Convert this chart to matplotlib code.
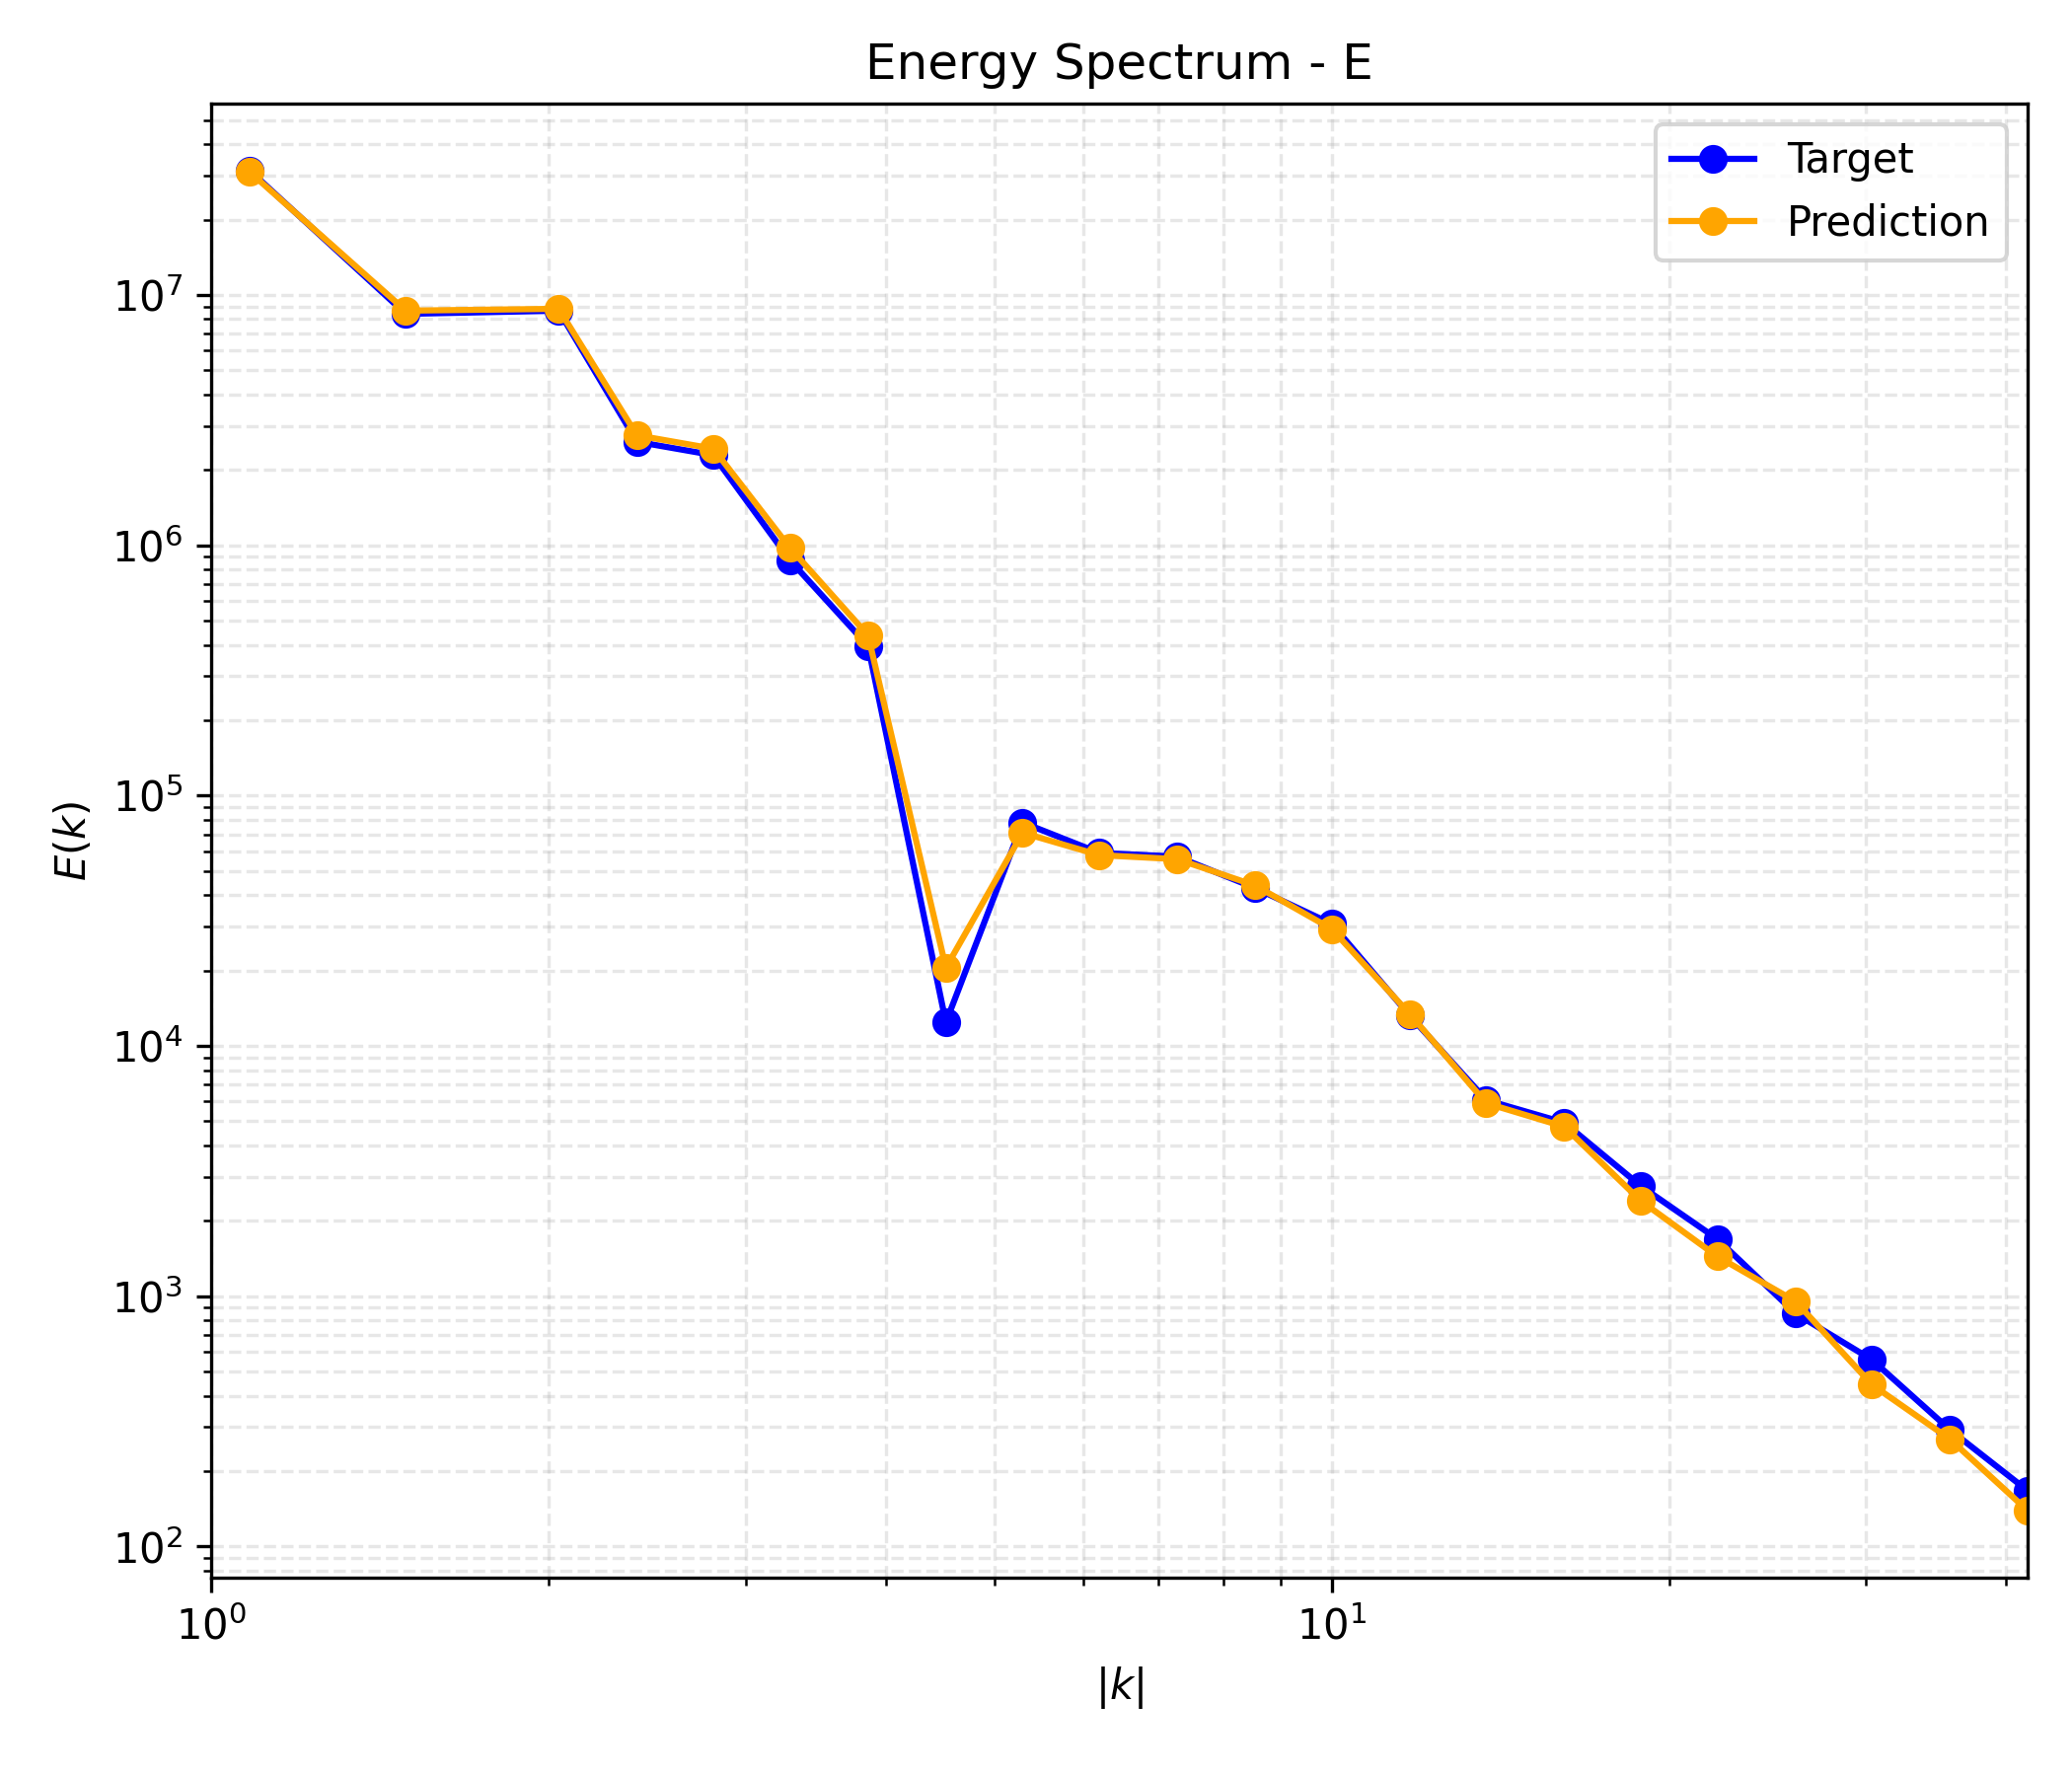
import matplotlib
matplotlib.use("Agg")
import matplotlib.pyplot as plt

# wavenumber bins
k = [1.082, 1.491, 2.042, 2.398, 2.806, 3.285, 3.856, 4.525, 5.298, 6.203, 7.278,
     8.544, 10.0, 11.74, 13.74, 16.13, 18.88, 22.09, 25.94, 30.35, 35.64, 41.8]

target = [3.14e7, 8.4e6, 8.65e6, 2.59e6, 2.29e6, 8.7e5, 3.96e5, 1.24e4, 7.8e4, 5.9e4, 5.7e4,
          4.27e4, 3.07e4, 1.32e4, 6.07e3, 4.93e3, 2.75e3, 1.69e3, 853, 557, 292, 167]

prediction = [3.1e7, 8.65e6, 8.8e6, 2.75e6, 2.43e6, 9.75e5, 4.37e5, 2.05e4, 7.1e4, 5.78e4, 5.57e4,
              4.37e4, 2.93e4, 1.34e4, 5.9e3, 4.75e3, 2.4e3, 1.44e3, 953, 443, 268, 139]

fig, ax = plt.subplots(figsize=(7, 6))

ax.loglog(k, target, 'o-', color='blue', label='Target')
ax.loglog(k, prediction, 'o-', color='orange', label='Prediction')

ax.set_xlim(1, k[-1])
ax.set_title("Energy Spectrum - E")
ax.set_xlabel("$|k|$")
ax.set_ylabel("$E(k)$")
ax.grid(True, which='both', ls='--', alpha=0.3)
ax.legend(loc='upper right')

fig.subplots_adjust(left=0.102, right=0.9786, top=0.9417, bottom=0.1117)
plt.savefig("out.png", dpi=300)
